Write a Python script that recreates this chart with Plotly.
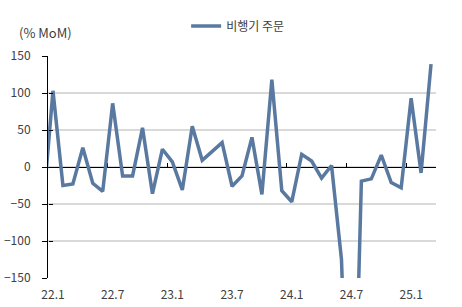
import plotly.graph_objects as go

# Month labels (index 0 = 21.12 so the line enters from the left edge as in the reference)
months = ["21.12"] + [f"{y}.{m}" for y in range(22, 26) for m in range(1, 13)]
months = months[: months.index("25.3") + 1]

# Aircraft orders, % MoM
orders = [-57, 103, -25, -23, 26, -22, -33, 86, -12, -12,
          53, -36, 24, 7, -31, 55, 9, 21, 33, -26,
          -12, 40, -37, 118, -32, -47, 17, 8, -15, 2,
          -125, -520, -19, -16, 16, -21, -28, 93, -8, 139]

tick_labels = ["22.1", "22.7", "23.1", "23.7", "24.1", "24.7", "25.1"]
y_ticks = [-150, -100, -50, 0, 50, 100, 150]

x_idx = list(range(len(months)))
label_pos = [months.index(t) for t in tick_labels]
boundary_pos = [p - 0.5 for p in label_pos]
x_range = [months.index("22.1") - 0.5, len(months) - 0.5]

FONT = "Noto Sans CJK KR"
TXT = "#404040"
LINE = "#5a79a0"

fig = go.Figure()
fig.add_trace(go.Scatter(
    x=x_idx, y=orders, mode="lines", name="비행기 주문",
    line=dict(color=LINE, width=3.5),
    customdata=months, hovertemplate="%{customdata}: %{y}<extra></extra>",
))
fig.add_trace(go.Scatter(x=[None], y=[None], xaxis="x2", yaxis="y2",
                         showlegend=False, hoverinfo="skip"))

fig.update_layout(
    width=462, height=307,
    margin=dict(l=48, r=26, t=56, b=29, autoexpand=False),
    paper_bgcolor="white", plot_bgcolor="white",
    font=dict(family=FONT, size=12, color=TXT),
    showlegend=True,
    legend=dict(x=0.356, y=1.135, xanchor="left", yanchor="middle",
                font=dict(size=12, color=TXT), bgcolor="rgba(0,0,0,0)"),
    xaxis=dict(range=x_range, tickmode="array", tickvals=label_pos, ticktext=tick_labels,
               showgrid=False, zeroline=False, showline=False, ticks="",
               tickangle=0, ticklabelstandoff=8, tickfont=dict(size=12, color=TXT)),
    xaxis2=dict(overlaying="x", anchor="free", position=0.5, range=x_range,
                tickmode="array", tickvals=boundary_pos, ticks="inside", ticklen=4,
                tickcolor="black", tickwidth=1, showticklabels=False,
                showline=True, linecolor="black", linewidth=1,
                showgrid=False, zeroline=False, layer="below traces"),
    yaxis=dict(range=[-150, 150], tickmode="array", tickvals=y_ticks,
               showgrid=True, gridcolor="#d9d9d9", gridwidth=1.5,
               zeroline=False, showline=True, linecolor="black", linewidth=1,
               ticks="outside", ticklen=5, tickcolor="black",
               ticklabelstandoff=9, tickfont=dict(size=12, color=TXT)),
    yaxis2=dict(overlaying="y", anchor="free", position=0, range=[-150, 150],
                tickmode="array", tickvals=y_ticks, ticks="inside", ticklen=4,
                tickcolor="black", showticklabels=False, showgrid=False,
                zeroline=False, showline=False),
    annotations=[dict(text="(% MoM)", xref="paper", yref="paper",
                      x=-0.08, y=1.104, xanchor="left", yanchor="middle",
                      showarrow=False, font=dict(size=13, color=TXT))],
)

fig.write_html("out.html")
